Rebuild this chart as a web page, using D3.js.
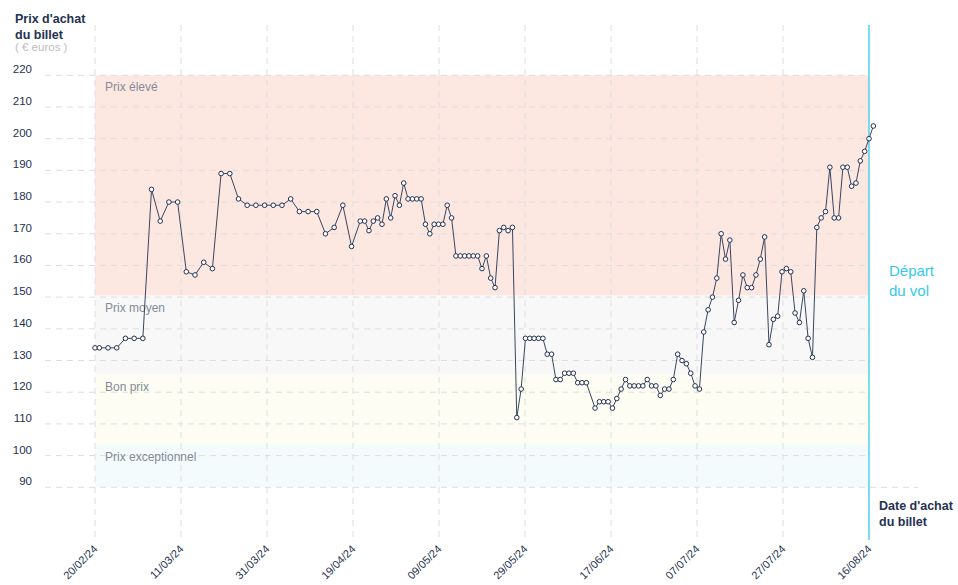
<!DOCTYPE html>
<html>
<head>
<meta charset="utf-8">
<script src="https://cdn.jsdelivr.net/npm/d3@7"></script>
<style>
  html, body { margin: 0; padding: 0; background: #fff; }
  svg { display: block; font-family: "Liberation Sans", Arial, sans-serif; }
</style>
</head>
<body>
<svg id="chart" width="958" height="585"></svg>
<script>
// ---------- DATA ----------
const purchaseDates = [
  "20/02","21/02","23/02","25/02","27/02","29/02","02/03","04/03","06/03","08/03",
  "10/03","12/03","14/03","16/03","18/03","20/03","22/03","24/03","26/03","28/03",
  "30/03","01/04","03/04","05/04","07/04","09/04","11/04","13/04","15/04","17/04","19/04",
  "21/04","22/04","23/04","24/04","25/04","26/04","27/04","28/04","29/04","30/04",
  "01/05","02/05","03/05","04/05","05/05","06/05","07/05","08/05","09/05","10/05",
  "11/05","12/05","13/05","14/05","15/05","16/05","17/05","18/05","19/05","20/05",
  "21/05","22/05","23/05","24/05","25/05","26/05","27/05","28/05","29/05","30/05","31/05",
  "01/06","02/06","03/06","04/06","05/06","06/06","07/06","08/06","09/06","10/06","11/06","12/06",
  "14/06","15/06","16/06","17/06","18/06","19/06","20/06","21/06","22/06","23/06",
  "24/06","25/06","26/06","27/06","28/06","29/06","30/06",
  "01/07","02/07","03/07","04/07","05/07","06/07","07/07","08/07","09/07","10/07",
  "11/07","12/07","13/07","14/07","15/07","16/07","17/07","18/07","19/07","20/07",
  "21/07","22/07","23/07","24/07","25/07","26/07","27/07","28/07","29/07","30/07","31/07",
  "01/08","02/08","03/08","04/08","05/08","06/08","07/08","08/08","09/08","10/08",
  "11/08","12/08","13/08","14/08","15/08","16/08","17/08"
];
const ticketPrices = [
  134,134,134,134,137,137,137,
  184,174,180,180,158,157,161,159,
  189,189,181,179,179,179,179,179,
  181,177,177,177,170,172,179,166,
  174,174,171,174,175,173,181,175,182,179,
  186,181,181,181,181,173,170,173,173,173,
  179,175,163,163,163,163,163,163,159,163,
  156,153,171,172,171,172,112,121,
  137,137,137,137,137,132,132,124,124,
  126,126,126,123,123,123,
  115,117,117,117,115,118,121,124,122,122,122,122,124,122,122,
  119,121,121,124,132,130,129,126,122,121,
  139,146,150,156,170,162,168,142,149,157,153,153,157,162,169,
  135,143,144,158,159,158,145,142,152,137,131,
  172,175,177,191,175,175,191,191,185,186,193,196,200,204
];
const xTickLabels = ["20/02/24","11/03/24","31/03/24","19/04/24","09/05/24","29/05/24","17/06/24","07/07/24","27/07/24","16/08/24"];
const yTickValues = [90,100,110,120,130,140,150,160,170,180,190,200,210,220];
const bandNames = ["Prix élevé","Prix moyen","Bon prix","Prix exceptionnel"];
const bandLow   = [150.5, 125.5, 103.5, 90];
const bandHigh  = [220, 150.5, 125.5, 103.5];
const bandColors = ["#fde7e1","#f8f8f8","#fdfdf3","#f3fbfd"];
const domainStart = "20/02/24", domainEnd = "16/08/24";

// ---------- SETUP ----------
const parse = d3.timeParse("%d/%m/%y");
const data = purchaseDates.map((d, i) => ({ date: parse(d + "/24"), price: ticketPrices[i] }));

const svg = d3.select("#chart");
const x = d3.scaleTime().domain([parse(domainStart), parse(domainEnd)]).range([95, 869]);
const y = d3.scaleLinear().domain([90, 220]).range([487.3, 75.3]);

const navy = "#24314f";
const lineCol = "#3a4660";
const grid = "#dedede";
const cyan = "#33c9ec";

// bands
const bands = bandNames.map((n, i) => ({ name: n, lo: bandLow[i], hi: bandHigh[i], color: bandColors[i] }));
svg.append("g").selectAll("rect").data(bands).join("rect")
  .attr("x", x.range()[0]).attr("width", x.range()[1] - x.range()[0])
  .attr("y", d => y(d.hi)).attr("height", d => y(d.lo) - y(d.hi))
  .attr("fill", d => d.color);

// horizontal grid
svg.append("g").selectAll("line").data(yTickValues).join("line")
  .attr("x1", 45).attr("x2", d => d === 90 ? 918 : 869)
  .attr("y1", d => y(d)).attr("y2", d => y(d))
  .attr("stroke", grid).attr("stroke-width", 1).attr("stroke-dasharray", "6,5");

// vertical grid at x ticks
const t0 = x.domain()[0].getTime(), t1 = x.domain()[1].getTime();
const xTickDates = xTickLabels.map((_, i) => new Date(t0 + (t1 - t0) * i / (xTickLabels.length - 1)));
svg.append("g").selectAll("line").data(xTickDates.slice(0, -1)).join("line")
  .attr("x1", d => x(d)).attr("x2", d => x(d))
  .attr("y1", 25).attr("y2", 538)
  .attr("stroke", grid).attr("stroke-width", 1).attr("stroke-dasharray", "6,5");

// y labels
svg.append("g").selectAll("text").data(yTickValues).join("text")
  .attr("x", 32).attr("y", d => y(d) - 2)
  .attr("text-anchor", "end").attr("font-size", 11.5).attr("fill", navy)
  .text(d => d);

// band labels
svg.append("g").selectAll("text").data(bands).join("text")
  .attr("x", 105).attr("y", d => y(d.hi) + 16)
  .attr("font-size", 12).attr("fill", "#858b97")
  .text(d => d.name);

// x axis labels (rotated)
const xAxis = d3.axisBottom(x).tickValues(xTickDates).tickSize(0).tickPadding(0)
  .tickFormat((d, i) => xTickLabels[i]);
const gx = svg.append("g").attr("transform", "translate(0,547)").call(xAxis);
gx.select(".domain").remove();
gx.selectAll("text")
  .attr("font-family", "'Liberation Sans', Arial, sans-serif")
  .attr("font-size", 11).attr("fill", navy)
  .attr("text-anchor", "end").attr("dy", "0.35em").attr("y", 0).attr("dx", 0)
  .attr("transform", "rotate(-45)");

// departure line
svg.append("line").attr("x1", x.range()[1]).attr("x2", x.range()[1])
  .attr("y1", 25).attr("y2", 540).attr("stroke", cyan).attr("stroke-width", 1.3);
svg.append("text").attr("x", 889).attr("y", 276).attr("font-size", 15).attr("fill", cyan).text("Départ");
svg.append("text").attr("x", 889).attr("y", 296).attr("font-size", 15).attr("fill", cyan).text("du vol");

// line + points
const line = d3.line().x(d => x(d.date)).y(d => y(d.price));
svg.append("path").datum(data).attr("d", line)
  .attr("fill", "none").attr("stroke", lineCol).attr("stroke-width", 1);
svg.append("g").selectAll("circle").data(data).join("circle")
  .attr("cx", d => x(d.date)).attr("cy", d => y(d.price)).attr("r", 2.3)
  .attr("fill", "#fff").attr("stroke", navy).attr("stroke-width", 1);

// axis titles
const yt = svg.append("text").attr("x", 15).attr("font-size", 12.5).attr("font-weight", "bold").attr("fill", navy);
yt.append("tspan").attr("x", 15).attr("y", 23).text("Prix d'achat");
yt.append("tspan").attr("x", 15).attr("y", 39).text("du billet");
svg.append("text").attr("x", 15).attr("y", 51).attr("font-size", 11.5).attr("fill", "#bdbdbd").text("( € euros )");

const xt = svg.append("text").attr("font-size", 12.5).attr("font-weight", "bold").attr("fill", navy);
xt.append("tspan").attr("x", 879).attr("y", 510).text("Date d'achat");
xt.append("tspan").attr("x", 879).attr("y", 526).text("du billet");
</script>
</body>
</html>
